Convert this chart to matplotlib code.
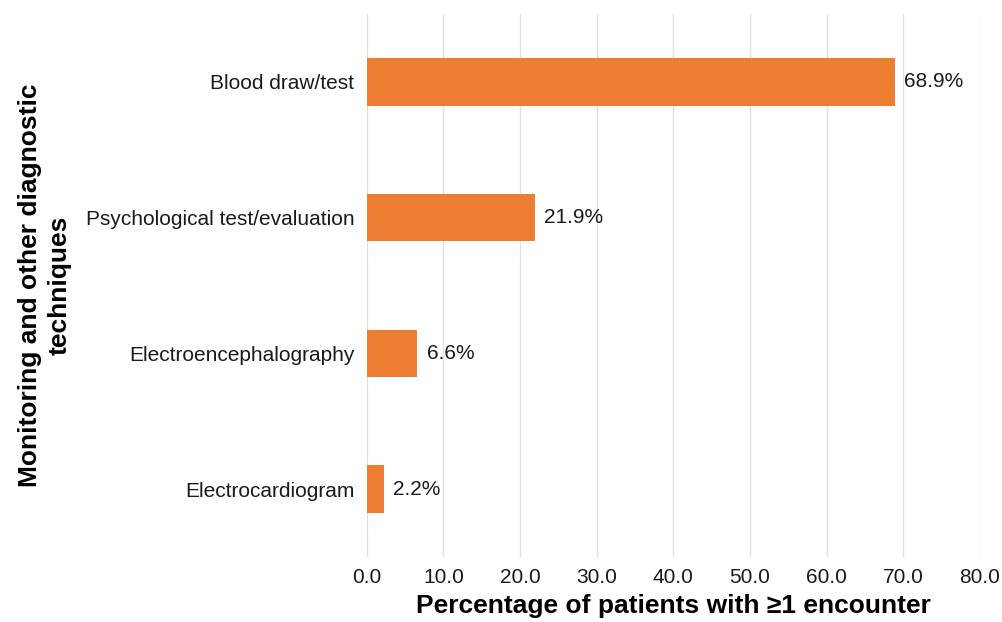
import matplotlib
matplotlib.use("Agg")
import matplotlib.pyplot as plt

categories = ["Blood draw/test", "Psychological test/evaluation", "Electroencephalography", "Electrocardiogram"]
values = [68.9, 21.9, 6.6, 2.2]
xticks = [0, 10, 20, 30, 40, 50, 60, 70, 80]

plt.rcParams['font.family'] = ['Liberation Sans', 'DejaVu Sans']

fig = plt.figure(figsize=(10.02, 6.22), dpi=100)
ax = fig.add_axes([0.366, 0.1045, 0.612, 0.873])

y = list(range(len(categories)))
ax.barh(y, values, height=0.35, color='#ED7D31', zorder=3)
for yi, v in zip(y, values):
    ax.text(v + 1.2, yi, f"{v:.1f}%", va='center', ha='left', fontsize=15, color='#1a1a1a')

ax.set_ylim(3.5, -0.5)
ax.set_xlim(0, 80)
ax.set_yticks(y)
ax.set_yticklabels(categories, fontsize=15, color='#1a1a1a')
ax.set_xticks(xticks)
ax.set_xticklabels([f"{t:.1f}" for t in xticks], fontsize=15, color='#1a1a1a')
ax.tick_params(axis='x', length=0, pad=8)
ax.tick_params(axis='y', length=0, pad=9)
ax.grid(axis='x', color='#e0e0e0', linewidth=1.0, zorder=0)
for s in ax.spines.values():
    s.set_visible(False)

ax.set_xlabel("Percentage of patients with ≥1 encounter", fontsize=19, fontweight='bold', labelpad=5)
fig.text(0.045, 0.542, "Monitoring and other diagnostic\ntechniques", rotation=90, ha='center', va='center',
         fontsize=19, fontweight='bold', linespacing=1.3)

fig.savefig("out.png", dpi=100)
